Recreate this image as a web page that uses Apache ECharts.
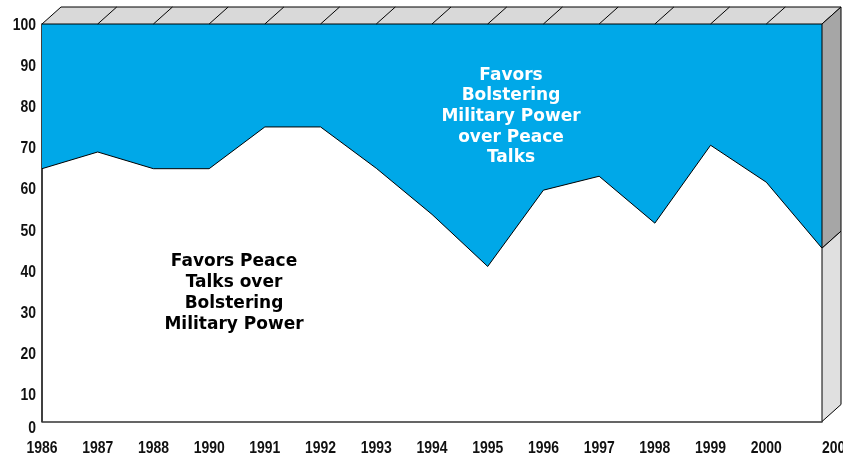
<!DOCTYPE html>
<html>
<head>
<meta charset="utf-8">
<script src="https://cdn.jsdelivr.net/npm/echarts@6/dist/echarts.min.js"></script>
<style>
html, body { margin: 0; padding: 0; background: #fff; }
#chart { width: 843px; height: 457px; }
</style>
</head>
<body>
<div id="chart"></div>
<script>
// survey years (no 1989 survey)
var years = ['1986', '1987', '1988', '1990', '1991', '1992', '1993', '1994',
             '1995', '1996', '1997', '1998', '1999', '2000', '2001'];
// % favouring peace talks over bolstering military power
var peaceTalks = [63.6, 67.8, 63.6, 63.6, 74.1, 74.1, 63.7, 52.1,
                  39.0, 58.2, 61.7, 49.9, 69.5, 60.2, 43.6];
// value axis
var yMin = 0, yMax = 100, yStep = 10;
var yTicks = [0, 10, 20, 30, 40, 50, 60, 70, 80, 90, 100];
// region captions
var peaceCaption = ['Favors Peace', 'Talks over', 'Bolstering', 'Military Power'];
var militaryCaption = ['Favors', 'Bolstering', 'Military Power', 'over Peace', 'Talks'];

var BLUE = '#00a8e8';
var TICK_FONT = "bold 17px 'Liberation Sans', Arial, sans-serif";
var NOTE_FONT = "bold 17px 'DejaVu Sans', sans-serif";
var DEPTH_X = 19, DEPTH_Y = -17;

var chart = echarts.init(document.getElementById('chart'));

chart.setOption({
    animation: false,
    backgroundColor: '#fff',
    grid: [
        { left: 42, right: 21, top: 24, bottom: 35.5, outerBoundsMode: 'none' },
        // label-only scale: the printed tick labels sit a little off the ticks
        { left: 42, right: 21, top: 25, bottom: 20.3, outerBoundsMode: 'none' }
    ],
    xAxis: [
        {
            type: 'category',
            data: years,
            boundaryGap: false,
            axisLine: { lineStyle: { color: '#333', width: 1.5 } },
            axisTick: { show: false },
            axisLabel: { show: false },
            splitLine: { show: false }
        },
        { gridIndex: 1, type: 'value', min: 0, max: 1, show: false }
    ],
    yAxis: [
        {
            type: 'value',
            min: yMin, max: yMax, interval: yStep,
            axisLine: { show: true, lineStyle: { color: '#000', width: 1.5 } },
            axisTick: { show: false },
            axisLabel: { show: false },
            splitLine: { show: false }
        },
        {
            gridIndex: 1, type: 'value',
            min: yMin, max: yMax, interval: yStep,
            show: false
        }
    ],
    series: [{
        type: 'line',
        data: peaceTalks,
        symbol: 'none',
        lineStyle: { color: '#000', width: 1 },
        areaStyle: { color: BLUE, opacity: 1, origin: 'end' },
        z: 2
    }]
});

function px(i, v) {
    return chart.convertToPixel({ xAxisIndex: 0, yAxisIndex: 0 }, [i, v]);
}
function labelY(v) {
    return chart.convertToPixel({ xAxisIndex: 1, yAxisIndex: 1 }, [0, v])[1];
}
var last = years.length - 1;
var tl = px(0, yMax), tr = px(last, yMax), br = px(last, yMin);
var endPt = px(last, peaceTalks[last]);
function back(p) { return [p[0] + DEPTH_X, p[1] + DEPTH_Y]; }

var graphics = [];

// 3-D lid and right side
graphics.push({
    type: 'polygon', z: 10,
    shape: { points: [tl, back(tl), back(tr), tr] },
    style: { fill: '#d9d9d9', stroke: '#000', lineWidth: 1 }
});
for (var i = 1; i < last; i++) {
    var p = px(i, yMax);
    graphics.push({
        type: 'line', z: 11,
        shape: { x1: p[0], y1: p[1], x2: p[0] + DEPTH_X, y2: p[1] + DEPTH_Y },
        style: { stroke: '#000', lineWidth: 1 }
    });
}
graphics.push({
    type: 'polygon', z: 10,
    shape: { points: [tr, back(tr), back(endPt), endPt] },
    style: { fill: '#a6a6a6', stroke: '#000', lineWidth: 1 }
});
graphics.push({
    type: 'polygon', z: 10,
    shape: { points: [endPt, back(endPt), back(br), br] },
    style: { fill: '#e0e0e0', stroke: '#000', lineWidth: 1 }
});

// tick labels in a condensed bold face
yTicks.forEach(function (v) {
    var y = labelY(v);
    if (v === 0) y -= 8.5;  // the 0 is tucked up under the 10
    graphics.push({
        type: 'text', z: 12, x: 36, y: y, scaleX: 0.82,
        style: { text: String(v), font: TICK_FONT, fill: '#111', align: 'right', verticalAlign: 'middle' }
    });
});
years.forEach(function (yr, i) {
    var p = px(i, yMin);
    var isLast = i === last;
    graphics.push({
        type: 'text', z: 12, x: p[0], y: p[1] + 26.5, scaleX: 0.82,
        style: { text: yr, font: TICK_FONT, fill: '#111', align: isLast ? 'left' : 'center', verticalAlign: 'middle' }
    });
});

// region captions
graphics.push({
    type: 'text', z: 12, x: 234, y: 251,
    style: {
        text: peaceCaption.join('\n'),
        font: NOTE_FONT, fill: '#000', align: 'center', verticalAlign: 'top', lineHeight: 21
    }
});
graphics.push({
    type: 'text', z: 12, x: 511, y: 65,
    style: {
        text: militaryCaption.join('\n'),
        font: NOTE_FONT, fill: '#fff', align: 'center', verticalAlign: 'top', lineHeight: 20.6
    }
});

chart.setOption({ graphic: graphics });
</script>
</body>
</html>
